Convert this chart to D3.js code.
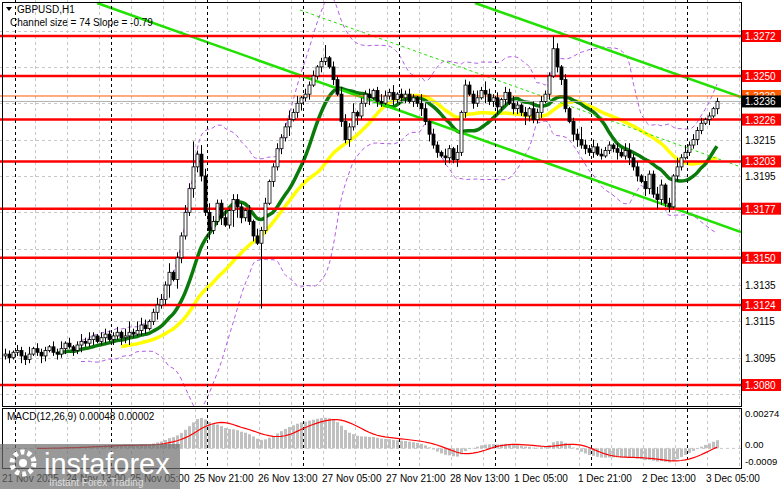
<!DOCTYPE html>
<html><head><meta charset="utf-8">
<script src="https://cdn.jsdelivr.net/npm/d3@7"></script>
<style>body{margin:0;background:#fff}svg{display:block;font-family:"Liberation Sans",Arial,sans-serif}</style>
</head><body><div id="place"></div>
<script>
// closes in pips above 1.3000, one per H1 bar
let closes = [97,95,98,99,96,94,97,100,98,96,
  99,101,98,97,100,103,101,99,102,104,
  103,105,107,104,106,108,105,107,109,106,
  107,109,108,110,113,111,115,120,124,127,
  135,142,138,150,162,175,188,200,207,195,
  175,165,170,180,172,168,176,182,178,172,
  176,170,162,158,165,180,192,200,210,216,
  222,226,230,235,238,240,245,250,255,258,
  260,255,248,240,225,215,222,230,228,235,
  240,238,242,236,235,239,241,237,240,238,
  240,236,238,235,232,225,218,212,208,206,
  205,210,204,208,230,245,240,235,238,242,
  240,236,238,233,237,241,235,232,234,230,
  228,232,226,230,236,240,250,265,255,248,
  232,225,218,215,212,210,208,211,207,206,
  209,212,210,208,206,209,205,200,195,192,
  188,196,185,182,190,180,178,195,200,205,
  208,212,215,220,224,226,228,232,236];
// extra wick above / below body, pips
let hiWick = "3213224132213241312424213322314625431243251324312545322413321314231232252413231291324425132312432413232153132142141322425323132421314232213131237324232213244231322431315242323121211";
let loWick = "2312432124312323132422312313243521331242371532253325224129632231421323251342312321313242522413212322313242423143242313215234231332532231313321442323121224124231432132313212232131311";
let levels = [1.3272, 1.3250, 1.3226, 1.3203, 1.3177, 1.3150, 1.3124, 1.3080];
let priceTicks = [1.3275, 1.3255, 1.3235, 1.3215, 1.3195, 1.3175, 1.3155, 1.3135, 1.3115, 1.3095, 1.3075];
let timeLabels = ["21 Nov 2025", "24 Nov 13:00", "25 Nov 05:00", "25 Nov 21:00", "26 Nov 13:00", "27 Nov 05:00",
  "27 Nov 21:00", "28 Nov 13:00", "1 Dec 05:00", "1 Dec 21:00", "2 Dec 13:00", "3 Dec 05:00"];

const W = 781, H = 489, plotR = 741, mainB = 406, macdT = 409, macdB = 468;
let svg = d3.select("#place").append("svg").attr("width", W).attr("height", H);

let bars = closes.map((c, i) => {
  let o = i ? closes[i - 1] : 96;
  return { i, o: 1.3 + o / 1e4, c: 1.3 + c / 1e4,
    h: 1.3 + (Math.max(o, c) + +hiWick[i]) / 1e4, l: 1.3 + (Math.min(o, c) - +loWick[i]) / 1e4 };
});
// a few long wicks
bars[64].l = 1.3122; bars[80].h = 1.3267; bars[137].h = 1.3272; bars[47].h = 1.3214; bars[163].l = 1.3177;

let x = d3.scaleLinear().domain([0, 178]).range([5, 717]);
let y = d3.scaleLinear().domain([1.3080, 1.3272]).range([385, 36]);

let main = svg.append("g");
main.append("clipPath").attr("id", "cm").append("rect").attr("x", 0).attr("y", 0).attr("width", plotR).attr("height", mainB);
let g = main.append("g").attr("clip-path", "url(#cm)");

// grid
priceTicks.forEach(p => g.append("line").attr("x1", 0).attr("x2", plotR).attr("y1", Math.round(y(p)) + .5).attr("y2", Math.round(y(p)) + .5)
  .attr("stroke", "#c8c8c8").attr("stroke-dasharray", "3,3"));
d3.range(35, plotR, 32).forEach(v => g.append("line").attr("x1", v + .5).attr("x2", v + .5).attr("y1", 0).attr("y2", H)
  .attr("stroke", "#c8c8c8").attr("stroke-dasharray", "3,3"));
let seps = d3.range(15, plotR, 96);

// indicators
let sma = (arr, n) => arr.map((v, i) => i < n - 1 ? null : d3.mean(arr.slice(i - n + 1, i + 1)));
let cl = bars.map(b => b.c);
let ma14 = sma(cl, 14), ma30 = sma(cl, 30), mid20 = sma(cl, 20);
let sd20 = cl.map((v, i) => i < 19 ? null : d3.deviation(cl.slice(i - 19, i + 1)));
let lineGen = d3.line().defined(d => d[1] != null).x(d => x(d[0])).y(d => y(d[1])).curve(d3.curveMonotoneX);
let series = a => a.map((v, i) => [i, v]);
g.append("path").attr("d", lineGen(series(mid20.map((m, i) => m == null ? null : m + 2.2 * sd20[i]))))
  .attr("fill", "none").attr("stroke", "#b45ce6").attr("stroke-dasharray", "4,3");
g.append("path").attr("d", lineGen(series(mid20.map((m, i) => m == null ? null : m - 2.2 * sd20[i]))))
  .attr("fill", "none").attr("stroke", "#b45ce6").attr("stroke-dasharray", "4,3");
g.append("path").attr("d", lineGen(series(ma30))).attr("fill", "none").attr("stroke", "#ffff00").attr("stroke-width", 3.5);
g.append("path").attr("d", lineGen(series(ma14))).attr("fill", "none").attr("stroke", "#0a7a0a").attr("stroke-width", 3.5);

// channel
let chan = [[97, 3, 741, 232, 2.5, null], [475, 3, 741, 97, 2.5, null], [300, 10, 741, 167, 1, "3,3"]];
chan.forEach(c => g.append("line").attr("x1", c[0]).attr("y1", c[1]).attr("x2", c[2]).attr("y2", c[3])
  .attr("stroke", "#22e000").attr("stroke-width", c[4]).attr("stroke-dasharray", c[5]));

// levels
levels.forEach(p => g.append("line").attr("x1", 0).attr("x2", plotR).attr("y1", y(p)).attr("y2", y(p)).attr("stroke", "#ff0000").attr("stroke-width", 2.5));
g.append("line").attr("x1", 0).attr("x2", plotR).attr("y1", y(1.3239)).attr("y2", y(1.3239)).attr("stroke", "#ff5a00");
g.append("line").attr("x1", 0).attr("x2", plotR).attr("y1", y(1.3236)).attr("y2", y(1.3236)).attr("stroke", "#b0b0b0");

seps.forEach(v => g.append("line").attr("x1", v + .5).attr("x2", v + .5).attr("y1", 0).attr("y2", H)
  .attr("stroke", "#000").attr("stroke-dasharray", "3,3"));

// candles
let cg = g.selectAll("g.c").data(bars).join("g");
cg.append("line").attr("x1", d => Math.round(x(d.i)) + .5).attr("x2", d => Math.round(x(d.i)) + .5)
  .attr("y1", d => y(d.h)).attr("y2", d => y(d.l)).attr("stroke", "#000");
cg.append("rect").attr("x", d => Math.round(x(d.i)) - 1).attr("width", 3)
  .attr("y", d => y(Math.max(d.o, d.c))).attr("height", d => Math.max(1, Math.abs(y(d.o) - y(d.c))))
  .attr("fill", d => d.c >= d.o ? "#fff" : "#000").attr("stroke", "#000").attr("stroke-width", .8);

// MACD
let ema = (arr, n) => { let k = 2 / (n + 1), out = [], e = arr[0]; arr.forEach(v => { e = v * k + e * (1 - k); out.push(e); }); return out; };
let e12 = ema(cl, 12), e26 = ema(cl, 26);
let macd = cl.map((v, i) => e12[i] - e26[i]);
let signal = sma(macd, 9);
let m = d3.scaleLinear().domain([-0.0009, 0.00274]).range([460, 413]);
let mg = svg.append("g");
mg.append("clipPath").attr("id", "cmacd").append("rect").attr("x", 0).attr("y", macdT).attr("width", plotR).attr("height", macdB - macdT);
let mgc = mg.append("g").attr("clip-path", "url(#cmacd)");
d3.range(35, plotR, 32).forEach(v => mgc.append("line").attr("x1", v + .5).attr("x2", v + .5).attr("y1", macdT).attr("y2", macdB)
  .attr("stroke", "#c8c8c8").attr("stroke-dasharray", "3,3"));
mgc.append("line").attr("x1", 0).attr("x2", plotR).attr("y1", m(0)).attr("y2", m(0)).attr("stroke", "#c8c8c8").attr("stroke-dasharray", "3,3");
seps.forEach(v => mgc.append("line").attr("x1", v + .5).attr("x2", v + .5).attr("y1", macdT).attr("y2", macdB)
  .attr("stroke", "#000").attr("stroke-dasharray", "3,3"));
mgc.selectAll("rect.h").data(macd).join("rect").attr("x", (d, i) => Math.round(x(i)) - 1).attr("width", 3)
  .attr("y", d => Math.min(m(d), m(0))).attr("height", d => Math.abs(m(d) - m(0))).attr("fill", "#c0c0c0");
mgc.append("path").attr("d", d3.line().defined(d => d != null).x((d, i) => x(i)).y(d => m(d))(signal))
  .attr("fill", "none").attr("stroke", "#ff0000").attr("stroke-width", 1.2);
mg.append("text").attr("x", 7).attr("y", 420).attr("font-size", 10).text("MACD(12,26,9) 0.00048 0.00002");

// frames
svg.append("rect").attr("x", 2.5).attr("y", 2.5).attr("width", plotR - 2).attr("height", mainB - 2).attr("fill", "none").attr("stroke", "#000");
svg.append("rect").attr("x", 2.5).attr("y", macdT - .5).attr("width", plotR - 2).attr("height", macdB - macdT + 1).attr("fill", "none").attr("stroke", "#000");

// right axis: ticks hidden where a level box covers them
let boxed = levels.concat([1.3239, 1.3236]);
priceTicks.filter(p => boxed.every(b => Math.abs(y(b) - y(p)) > 11))
  .forEach(p => svg.append("text").attr("x", 745).attr("y", y(p) + 4).attr("font-size", 10).text(p.toFixed(4)));
let box = (p, fill, col) => {
  svg.append("rect").attr("x", 742).attr("y", y(p) - 6).attr("width", 39).attr("height", 12).attr("fill", fill);
  svg.append("text").attr("x", 745).attr("y", y(p) + 4).attr("font-size", 10).attr("fill", col).text(p.toFixed(4));
};
levels.forEach(p => box(p, "#ff0000", "#fff"));
box(1.3239, "#ff5a00", "#fff");
box(1.3236, "#000", "#fff");
[[0.00274, "0.00274", 4], [0, "0.00", 0], [-0.0009, "-0.0009", 5]].forEach(t =>
  svg.append("text").attr("x", 745).attr("y", m(t[0]) + t[2]).attr("font-size", 9.5).text(t[1]));

// time axis
timeLabels.forEach((t, k) => svg.append("text").attr("x", 2 + 64 * k).attr("y", 482).attr("font-size", 10).text(t));

// title
svg.append("path").attr("d", "M6,7 L12,7 L9,11 Z").attr("fill", "#000");
svg.append("text").attr("x", 17).attr("y", 13).attr("font-size", 10).text("GBPUSD,H1");
svg.append("text").attr("x", 10).attr("y", 26).attr("font-size", 10).text("Channel size = 74 Slope = -0.79");

// watermark
let wm = svg.append("g");
wm.append("rect").attr("x", 0).attr("y", 444).attr("width", 180).attr("height", 45).attr("fill", "#6e6e6e").attr("opacity", .7);
wm.append("circle").attr("cx", 23).attr("cy", 463).attr("r", 11).attr("fill", "none").attr("stroke", "#fff").attr("stroke-width", 5).attr("stroke-dasharray", "4,3");
wm.append("circle").attr("cx", 23).attr("cy", 463).attr("r", 4).attr("fill", "#fff");
wm.append("text").attr("x", 44).attr("y", 474).attr("font-size", 29).attr("fill", "#fff").text("instaforex");
wm.append("text").attr("x", 49).attr("y", 486).attr("font-size", 10).attr("fill", "#ddd").text("Instant Forex Trading");
</script></body></html>
